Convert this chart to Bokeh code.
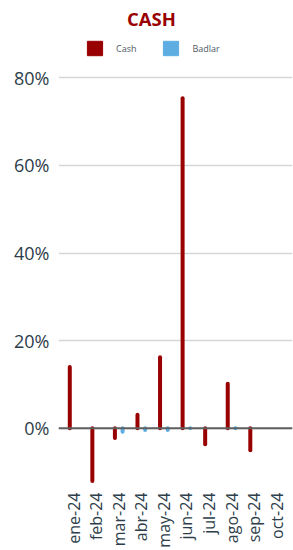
import math
from bokeh.plotting import figure
from bokeh.models import (ColumnDataSource, Range1d, FixedTicker, PrintfTickFormatter,
                          Span, Label, Legend, LegendItem)
from bokeh.transform import dodge
from bokeh.embed import file_html
from bokeh.resources import INLINE

# ---- data ----
months = ["ene-24", "feb-24", "mar-24", "abr-24", "may-24", "jun-24",
          "jul-24", "ago-24", "sep-24", "oct-24"]
cash = [14.0, -12.0, -2.2, 3.1, 16.2, 75.3, -3.6, 10.2, -5.0, float("nan")]
badlar = [float("nan"), float("nan"), -0.8, -0.4, -0.4, 0.0,
          float("nan"), 0.0, float("nan"), float("nan")]
y_ticks = [0, 20, 40, 60, 80]

CASH_COLOR = "#990000"
BADLAR_COLOR = "#5DADE2"
TEXT_COLOR = "#2d3e4a"

idx = list(range(len(months)))
src = ColumnDataSource(dict(x=idx, zero=[0] * len(idx), cash=cash, badlar=badlar))

p = figure(width=293, height=550, output_backend="svg", toolbar_location=None,
           x_range=Range1d(-0.67, 9.70), y_range=Range1d(-13.49, 97.6),
           min_border_left=58, min_border_right=1, min_border_top=0,
           min_border_bottom=60)
p.outline_line_color = None
p.background_fill_color = "white"
p.border_fill_color = "white"

# bars as thick round-capped segments
p.segment(x0=dodge("x", -0.17), y0="zero", x1=dodge("x", -0.17), y1="cash",
          source=src, line_color=CASH_COLOR, line_width=4, line_cap="round")
p.segment(x0=dodge("x", 0.17), y0="zero", x1=dodge("x", 0.17), y1="badlar",
          source=src, line_color=BADLAR_COLOR, line_width=4, line_cap="round")

# zero line
p.add_layout(Span(location=0, dimension="width", line_color="#5f5f5f", line_width=2))

# axes
p.yaxis.ticker = FixedTicker(ticks=y_ticks)
p.yaxis.formatter = PrintfTickFormatter(format="%d%%")
p.yaxis.axis_line_color = None
p.yaxis.major_tick_line_color = None
p.yaxis.minor_tick_line_color = None
p.yaxis.major_tick_out = 0
p.yaxis.major_tick_in = 0
p.yaxis.major_label_text_font = "Open Sans"
p.yaxis.major_label_text_font_size = "18px"
p.yaxis.major_label_text_color = TEXT_COLOR
p.yaxis.major_label_standoff = 9

p.xaxis.ticker = FixedTicker(ticks=idx)
p.xaxis.major_label_overrides = {i: m for i, m in zip(idx, months)}
p.xaxis.major_label_orientation = math.pi / 2
p.xaxis.axis_line_color = None
p.xaxis.major_tick_line_color = None
p.xaxis.minor_tick_line_color = None
p.xaxis.major_tick_out = 0
p.xaxis.major_tick_in = 0
p.xaxis.major_label_text_font = "Open Sans"
p.xaxis.major_label_text_font_size = "16px"
p.xaxis.major_label_text_color = TEXT_COLOR
p.xaxis.major_label_standoff = 5

p.xgrid.grid_line_color = None
p.ygrid.ticker = FixedTicker(ticks=y_ticks)
p.ygrid.grid_line_color = "#d6d6d6"
p.ygrid.grid_line_width = 1.5

# title
p.add_layout(Label(x=3.45, y=93.4, text="CASH", text_align="center",
                   text_baseline="alphabetic", text_font="Open Sans",
                   text_font_style="bold", text_font_size="18.5px",
                   text_color=CASH_COLOR))

# legend (dummy renderers for square swatches)
nan = float("nan")
r_cash = p.vbar(x=[0], top=[nan], width=0.5, fill_color=CASH_COLOR, line_color=CASH_COLOR)
r_bad = p.vbar(x=[0], top=[nan], width=0.5, fill_color=BADLAR_COLOR, line_color=BADLAR_COLOR)
legend = Legend(items=[LegendItem(label="Cash", renderers=[r_cash]),
                       LegendItem(label="Badlar", renderers=[r_bad])],
                orientation="horizontal", location=(27, 430),
                glyph_width=19, glyph_height=18, label_standoff=12, spacing=25,
                padding=0, margin=0, border_line_color=None,
                background_fill_alpha=0, label_text_font="Open Sans",
                label_text_font_size="9px", label_text_color="#505a64",
                label_height=18)
p.add_layout(legend)

open("out.html", "w").write(file_html(p, INLINE))
